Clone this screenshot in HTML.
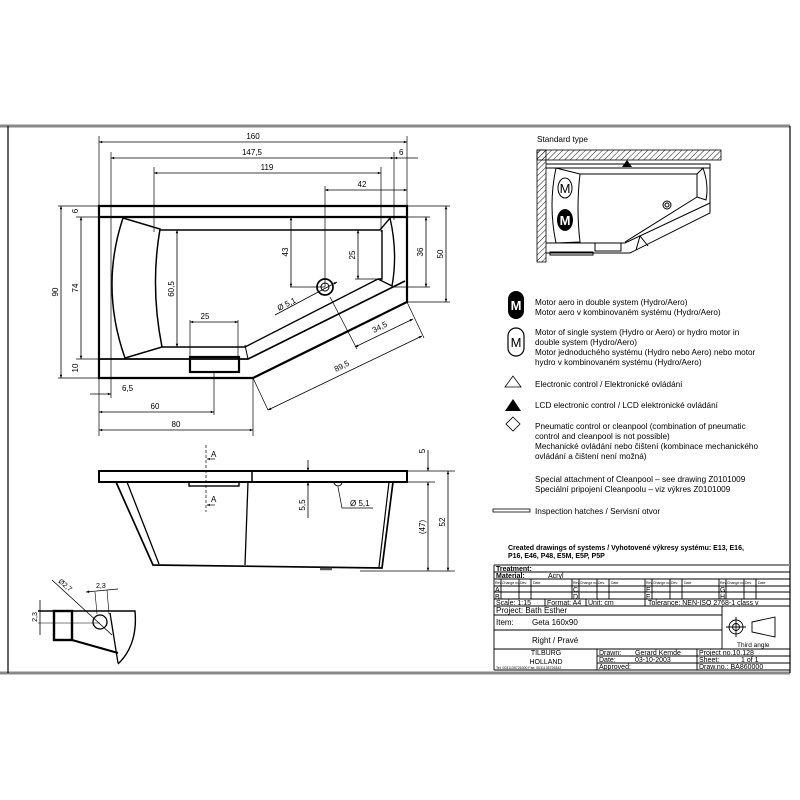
<!DOCTYPE html>
<html><head><meta charset="utf-8"><style>
html,body{margin:0;padding:0;background:#fff}
svg{display:block}
text{font-family:"Liberation Sans",sans-serif;fill:#000}
.d{font-size:8px}
.l{font-size:8.2px}
.t{font-size:7px;font-weight:bold}
</style></head><body>
<svg width="800" height="800" viewBox="0 0 800 800" xmlns="http://www.w3.org/2000/svg">
<defs>
<marker id="a" viewBox="0 0 10 10" refX="10" refY="5" markerWidth="6" markerHeight="4" orient="auto-start-reverse"><path d="M0,1 L10,5 L0,9z" fill="#000"/></marker>
<pattern id="h" width="4" height="4" patternUnits="userSpaceOnUse" patternTransform="rotate(45)"><line x1="0" y1="0" x2="0" y2="4" stroke="#000" stroke-width="0.9"/></pattern>
</defs>
<line x1="0" y1="126" x2="790" y2="126" stroke="#888" stroke-width="3"/>
<line x1="0" y1="673" x2="790" y2="673" stroke="#888" stroke-width="3"/>
<line x1="8" y1="126" x2="8" y2="673" stroke="#000" stroke-width="1.2"/>
<line x1="790" y1="126" x2="790" y2="673" stroke="#000" stroke-width="1.2"/>

<g fill="none" stroke="#000">
<path d="M99,206 H407 V302 L253,378 H99 Z" stroke-width="2.2"/>
<line x1="99" y1="217" x2="407" y2="217" stroke-width="2.2"/>
<path d="M99,359 H248 L405,281" stroke-width="1.7"/>
<path d="M160,230 H380" stroke-width="1.4"/>
<path d="M123,218 L160,229 Q150,287 162,347 L125,358 Q100,287 123,218 Z" stroke-width="1.5"/>
<path d="M162,347 H245 L378,279" stroke-width="1.4"/>
<line x1="245" y1="345" x2="248" y2="359" stroke-width="1"/>
<path d="M380,230 L390,218 Q398,253 392,286 L378,279 L382,279 V230" stroke-width="1.4"/>
<rect x="190" y="357" width="49" height="15" stroke-width="2.2"/>
<circle cx="325" cy="287" r="8" stroke-width="1.7"/><circle cx="325" cy="287" r="4" stroke-width="1"/>
<g stroke-width="0.7">
<line x1="99" y1="136" x2="99" y2="436"/>
<line x1="111" y1="152" x2="111" y2="398"/>
<line x1="154" y1="167" x2="154" y2="232"/>
<line x1="381" y1="167" x2="381" y2="232"/>
<line x1="394" y1="152" x2="394" y2="220"/>
<line x1="407" y1="136" x2="407" y2="206"/>
<line x1="325" y1="186" x2="325" y2="287"/>
<line x1="253" y1="378" x2="253" y2="436"/>
<line x1="253" y1="378" x2="268" y2="410"/>
<line x1="407" y1="302" x2="424" y2="338"/>
<line x1="330" y1="297" x2="357" y2="349"/>
<line x1="214" y1="372" x2="214" y2="415"/>
<line x1="190" y1="320" x2="190" y2="357"/><line x1="238" y1="320" x2="238" y2="357"/>
<line x1="58" y1="206" x2="99" y2="206"/><line x1="58" y1="378" x2="253" y2="378"/>
<line x1="76" y1="217" x2="99" y2="217"/><line x1="76" y1="359" x2="99" y2="359"/>
<line x1="407" y1="206" x2="450" y2="206"/><line x1="407" y1="302" x2="450" y2="302"/>
<line x1="392" y1="217" x2="430" y2="217"/><line x1="392" y1="287" x2="430" y2="287"/>
<line x1="290" y1="287" x2="325" y2="287"/><line x1="355" y1="279" x2="378" y2="279"/>
</g>
<g stroke-width="0.8" marker-start="url(#a)" marker-end="url(#a)">
<line x1="99" y1="142" x2="407" y2="142"/>
<line x1="111" y1="158" x2="394" y2="158"/>
<line x1="154" y1="173" x2="381" y2="173"/>
<line x1="325" y1="190" x2="407" y2="190"/>
<line x1="61" y1="206" x2="61" y2="378"/>
<line x1="81" y1="217" x2="81" y2="359"/>
<line x1="426" y1="217" x2="426" y2="287"/>
<line x1="446" y1="206" x2="446" y2="302"/>
<line x1="291" y1="217" x2="291" y2="287"/>
<line x1="358" y1="230" x2="358" y2="279"/>
<line x1="177" y1="230" x2="177" y2="347"/>
<line x1="190" y1="322" x2="238" y2="322"/>
<line x1="355" y1="347" x2="413" y2="319"/>
<line x1="268" y1="410" x2="422" y2="336"/>
<line x1="99" y1="412" x2="214" y2="412"/>
<line x1="99" y1="430" x2="253" y2="430"/>
</g>
<line x1="394" y1="158" x2="418" y2="158" stroke-width="0.8" marker-start="url(#a)"/>
<line x1="90" y1="394" x2="111" y2="394" stroke-width="0.8" marker-end="url(#a)"/>
<line x1="275" y1="315" x2="337" y2="282" stroke-width="0.8" marker-end="url(#a)"/>
</g>
<g class="d">
<text x="253" y="139" text-anchor="middle">160</text>
<text x="252" y="155" text-anchor="middle">147,5</text>
<text x="399" y="155">6</text>
<text x="267" y="170" text-anchor="middle">119</text>
<text x="362" y="187" text-anchor="middle">42</text>
<text x="205" y="319" text-anchor="middle">25</text>
<text x="122" y="391">6,5</text>
<text x="155" y="409" text-anchor="middle">60</text>
<text x="176" y="427" text-anchor="middle">80</text>
<text transform="translate(58,292) rotate(-90)" text-anchor="middle">90</text>
<text transform="translate(78,288) rotate(-90)" text-anchor="middle">74</text>
<text transform="translate(78,211) rotate(-90)" text-anchor="middle">6</text>
<text transform="translate(78,368) rotate(-90)" text-anchor="middle">10</text>
<text transform="translate(288,252) rotate(-90)" text-anchor="middle">43</text>
<text transform="translate(355,255) rotate(-90)" text-anchor="middle">25</text>
<text transform="translate(174,289) rotate(-90)" text-anchor="middle">60,5</text>
<text transform="translate(423,252) rotate(-90)" text-anchor="middle">36</text>
<text transform="translate(443,254) rotate(-90)" text-anchor="middle">50</text>
<text transform="translate(279,311) rotate(-27)">Ø 5,1</text>
<text transform="translate(374,333) rotate(-27)">34,5</text>
<text transform="translate(336,372) rotate(-27)">89,5</text>
</g>

<g fill="none" stroke="#000">
<rect x="99" y="471" width="308" height="11" stroke-width="2"/>
<line x1="252" y1="471" x2="252" y2="482" stroke-width="1.5"/>
<path d="M116,482 L153,565 L382,568 L393,482" stroke-width="1.7"/>
<line x1="127" y1="482" x2="159" y2="564" stroke-width="1.3"/>
<line x1="389" y1="482" x2="379" y2="567" stroke-width="1.2"/>
<line x1="248" y1="482" x2="245" y2="565" stroke-width="1.3"/>
<rect x="189" y="482" width="50" height="4" stroke-width="1.4"/>
<path d="M320,569 H332" stroke-width="2.5" stroke="#555"/>
<path d="M334,482 A4,4 0 1 0 342,482" stroke-width="1"/>
<path d="M338,487 L342,508 H373" stroke-width="0.7"/>
<line x1="206" y1="445" x2="206" y2="512" stroke-width="0.7" stroke-dasharray="3,2"/>
<line x1="215" y1="459" x2="207" y2="459" stroke-width="0.7" marker-end="url(#a)"/>
<line x1="215" y1="505" x2="207" y2="505" stroke-width="0.7" marker-end="url(#a)"/>
<g stroke-width="0.7">
<line x1="407" y1="471" x2="455" y2="471"/><line x1="393" y1="482" x2="435" y2="482"/>
<line x1="360" y1="571" x2="455" y2="571"/>
</g>
<g stroke-width="0.8" marker-start="url(#a)" marker-end="url(#a)">
<line x1="428" y1="482" x2="428" y2="571"/>
<line x1="448" y1="471" x2="448" y2="571"/>
</g>
<line x1="428" y1="450" x2="428" y2="471" stroke-width="0.8" marker-end="url(#a)"/>
<line x1="308" y1="460" x2="308" y2="471" stroke-width="0.8" marker-end="url(#a)"/>
<line x1="308" y1="518" x2="308" y2="482" stroke-width="0.8" marker-end="url(#a)"/>
</g>
<g class="d">
<text x="211" y="457">A</text><text x="211" y="502">A</text>
<text x="350" y="506">Ø 5,1</text>
<text transform="translate(305,505) rotate(-90)" text-anchor="middle">5,5</text>
<text transform="translate(425,451) rotate(-90)" text-anchor="middle">5</text>
<text transform="translate(425,527) rotate(-90)" text-anchor="middle">(47)</text>
<text transform="translate(445,522) rotate(-90)" text-anchor="middle">52</text>
</g>

<g fill="none" stroke="#000">
<path d="M38,611 H135 Q138,645 118,664" stroke-width="1.4"/>
<rect x="54" y="611" width="18" height="29" stroke-width="2.4"/>
<line x1="72" y1="640" x2="118" y2="653" stroke-width="2.2"/>
<line x1="110" y1="613" x2="118" y2="663" stroke-width="1.3"/>
<circle cx="100" cy="622" r="7" stroke-width="1.3"/>
<line x1="38" y1="623" x2="100" y2="623" stroke-width="0.6"/>
<line x1="52" y1="580" x2="112" y2="635" stroke-width="0.8"/>
<line x1="95" y1="592" x2="97" y2="614" stroke-width="0.6"/><line x1="107" y1="590" x2="109" y2="614" stroke-width="0.6"/>
<line x1="86" y1="592" x2="118" y2="589" stroke-width="0.8" marker-start="url(#a)"/>
<line x1="40" y1="600" x2="40" y2="635" stroke-width="0.8"/>
</g>
<g class="d" style="font-size:7px">
<text transform="translate(58,582) rotate(40)">Ø2,7</text>
<text x="96" y="588">2,3</text>
<text transform="translate(37,617) rotate(-90)" text-anchor="middle">2,3</text>
</g>

<text x="537" y="142" class="l">Standard type</text>
<rect x="537" y="150" width="184" height="10" fill="url(#h)" stroke="#000" stroke-width="0.8"/>
<rect x="537" y="150" width="9" height="112" fill="url(#h)" stroke="#000" stroke-width="0.8"/>
<g fill="none" stroke="#000" stroke-width="1">
<path d="M546,164 H710 V213 L630,253 H546"/>
<line x1="546" y1="168" x2="710" y2="168"/>
<path d="M546,243 H625 L710,203"/>
<line x1="580" y1="174" x2="697" y2="174"/>
<path d="M697,174 L703,168 Q709,185 706,200 L697,197 Z"/>
<path d="M556,168 L580,174 Q576,208 580,242 L556,243 Q548,205 556,168 Z"/>
<path d="M625,242 L697,197"/>
<rect x="595" y="243" width="26" height="8"/>
<path d="M636,250 L640,236 L648,246"/>
<rect x="550" y="252" width="43" height="3"/>
<circle cx="667" cy="205" r="4"/><circle cx="667" cy="205" r="2"/>
<ellipse cx="565" cy="188" rx="7" ry="10"/>
</g>
<ellipse cx="565" cy="220" rx="8" ry="11" fill="#000"/>
<text x="565" y="193" font-size="13" text-anchor="middle">M</text>
<text x="565" y="225" font-size="13" font-weight="bold" text-anchor="middle" style="fill:#fff">M</text>
<path d="M622,167 L627,160 L632,167Z" fill="#000"/>

<rect x="508" y="291" width="16" height="28" rx="8" fill="#000"/>
<text x="516" y="310" font-size="13" font-weight="bold" text-anchor="middle" style="fill:#fff">M</text>
<rect x="508" y="328" width="16" height="28" rx="8" fill="none" stroke="#000" stroke-width="1.2"/>
<text x="516" y="347" font-size="13" text-anchor="middle">M</text>
<path d="M505,387 L513,376 L521,387Z" fill="none" stroke="#000" stroke-width="0.8"/>
<path d="M505,411 L513,399 L521,411Z" fill="#000"/>
<path d="M513,417 L520,424 L513,431 L506,424Z" fill="none" stroke="#000" stroke-width="0.8"/>
<rect x="493" y="509" width="37" height="3" fill="none" stroke="#000" stroke-width="0.8"/>
<g class="l">
<text x="535" y="305">Motor aero in double system (Hydro/Aero)</text>
<text x="535" y="315">Motor aero v kombinovaném systému (Hydro/Aero)</text>
<text x="535" y="335">Motor of single system (Hydro or Aero) or hydro motor in</text>
<text x="535" y="345">double system (Hydro/Aero)</text>
<text x="535" y="355">Motor jednoduchého systému (Hydro nebo Aero) nebo motor</text>
<text x="535" y="365">hydro v kombinovaném systému (Hydro/Aero)</text>
<text x="535" y="387">Electronic control / Elektronické ovládání</text>
<text x="535" y="408">LCD electronic control / LCD elektronické ovládání</text>
<text x="535" y="429">Pneumatic control or cleanpool (combination of pneumatic</text>
<text x="535" y="439">control and cleanpool is not possible)</text>
<text x="535" y="449">Mechanické ovládání nebo čištení (kombinace mechanického</text>
<text x="535" y="459">ovládání a čištení není možná)</text>
<text x="535" y="482">Special attachment of Cleanpool – see drawing Z0101009</text>
<text x="535" y="492">Speciální pripojení Cleanpoolu – viz výkres Z0101009</text>
<text x="535" y="514">Inspection hatches / Servisní otvor</text>
</g>
<text x="508" y="550" class="t">Created drawings of systems / Vyhotovené výkresy systému: E13, E16,</text>
<text x="508" y="558" class="t">P16, E46, P48, E5M, E5P, P5P</text>

<line x1="494" y1="565" x2="790" y2="565" stroke="#888" stroke-width="2"/>
<g fill="none" stroke="#000" stroke-width="0.9">
<line x1="494" y1="565" x2="494" y2="670"/>
<line x1="494" y1="572" x2="790" y2="572"/>
<line x1="494" y1="579" x2="790" y2="579"/>
<line x1="494" y1="586" x2="790" y2="586"/>
<line x1="494" y1="592" x2="790" y2="592"/>
<line x1="494" y1="599" x2="790" y2="599"/>
<line x1="494" y1="606" x2="790" y2="606"/>
<line x1="494" y1="615" x2="722" y2="615"/>
<line x1="494" y1="630" x2="722" y2="630"/>
<line x1="494" y1="649" x2="790" y2="649"/>
<line x1="597" y1="656" x2="790" y2="656"/>
<line x1="597" y1="663" x2="790" y2="663"/>
<line x1="494" y1="670" x2="790" y2="670"/>
<line x1="722" y1="606" x2="722" y2="649"/>
<line x1="597" y1="649" x2="597" y2="670"/>
<line x1="697" y1="649" x2="697" y2="670"/>
<line x1="545" y1="599" x2="545" y2="606"/>
<line x1="586" y1="599" x2="586" y2="606"/>
<line x1="645" y1="599" x2="645" y2="606"/>
<path d="M501,579V599M519,579V599M531,579V599M572,579V599"/>
<path d="M579,579V599M597,579V599M609,579V599M645,579V599"/>
<path d="M652,579V599M670,579V599M682,579V599M719,579V599"/>
<path d="M726,579V599M744,579V599M756,579V599"/>
<circle cx="736" cy="627" r="7"/><circle cx="736" cy="627" r="3.5"/>
<path d="M726,627H746M736,617V637"/>
<path d="M752,622 L775,617 V637 L752,632 Z"/>
</g>
<g style="font-size:7px">
<text x="496" y="571" font-weight="bold">Treatment:</text>
<text x="496" y="578" font-weight="bold">Material:</text><text x="548" y="578">Acryl</text>
<g style="font-size:3.5px"><text x="495" y="584">Rev.</text><text x="502" y="584">Change no.</text><text x="520" y="584">Dev.</text><text x="533" y="584">Date</text>
<text x="573" y="584">Rev.</text><text x="580" y="584">Change no.</text><text x="598" y="584">Dev.</text><text x="611" y="584">Date</text>
<text x="646" y="584">Rev.</text><text x="653" y="584">Change no.</text><text x="671" y="584">Dev.</text><text x="684" y="584">Date</text>
<text x="720" y="584">Rev.</text><text x="727" y="584">Change no.</text><text x="745" y="584">Dev.</text><text x="758" y="584">Date</text></g>
<text x="495" y="592">A</text><text x="495" y="599">B</text>
<text x="573" y="592">C</text><text x="573" y="599">D</text>
<text x="646" y="592">E</text><text x="646" y="599">F</text>
<text x="720" y="592">G</text><text x="720" y="599">H</text>
<text x="496" y="605">Scale:  1:15</text><text x="547" y="605">Format:  A4</text><text x="588" y="605">Unit:   cm</text>
<text x="648" y="605">Tolerance: NEN-ISO 2768-1 class v</text>
<text x="496" y="613" style="font-size:8px">Project:  Bath Esther</text>
<text x="496" y="625" style="font-size:8px">Item:</text><text x="532" y="625" style="font-size:8px">Geta 160x90</text>
<text x="532" y="643" style="font-size:8px">Right / Pravé</text>
<text x="737" y="647" style="font-size:6.5px">Third angle</text>
<text x="546" y="655" text-anchor="middle">TILBURG</text>
<text x="546" y="664" text-anchor="middle">HOLLAND</text>
<text x="496" y="669" style="font-size:3.5px">Tel: 0031135726300 Fax: 0031135726342</text>
<text x="599" y="655">Drawn:</text><text x="635" y="655">Gerard Kemde</text>
<text x="599" y="662">Date:</text><text x="635" y="662">03-10-2003</text>
<text x="599" y="669">Approved:</text>
<text x="699" y="655">Project no.10.128</text>
<text x="699" y="662">Sheet:</text><text x="741" y="662">1 of  1</text>
<text x="699" y="669">Draw.no.:  BA860000</text>
</g>
</svg>
</body></html>
